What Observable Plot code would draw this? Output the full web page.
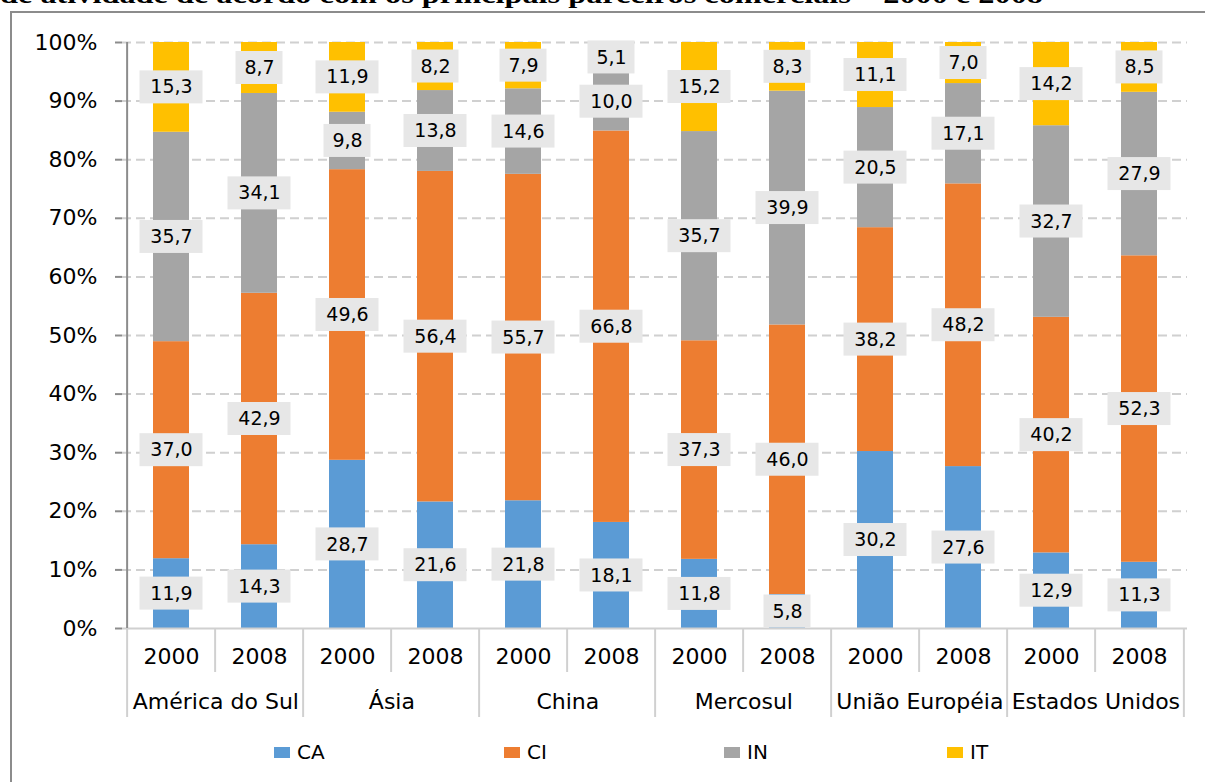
<!DOCTYPE html>
<html><head><meta charset="utf-8">
<script src="https://cdn.jsdelivr.net/npm/d3@7"></script>
<script src="https://cdn.jsdelivr.net/npm/@observablehq/plot@0.6"></script>
<style>
html,body{margin:0;padding:0;background:#fff;overflow:hidden;}
#wrap{position:relative;width:1205px;height:782px;overflow:hidden;font-family:"DejaVu Sans",sans-serif;}
#title{position:absolute;left:0;top:-18px;font-weight:bold;font-size:26px;font-family:"Liberation Serif","Times New Roman",serif;white-space:nowrap;line-height:26px;transform-origin:0 0;}
#border{position:absolute;left:10px;top:11px;width:1220px;height:800px;border:2px solid #8c8c8c;box-sizing:border-box;}
#chart{position:absolute;left:0;top:0;}
#legend{position:absolute;top:740px;left:0;width:1205px;height:24px;}
.item{position:absolute;top:0;display:flex;align-items:center;height:24px;font-size:20px;color:#000;}
.sw{width:16px;height:11px;margin-right:7px;}
</style></head>
<body>
<div id="wrap">
  <div id="border"></div>
  <div id="title"><span id="titletext">de atividade de acordo com os principais parceiros comerciais – 2000 e 2008</span></div>
  <div id="chart"></div>
  <div id="legend"></div>
</div>
<script>
// ---- data ----
const regions = ["América do Sul", "Ásia", "China", "Mercosul", "União Européia", "Estados Unidos"];
const years = ["2000", "2008"];
const seriesNames = ["CA", "CI", "IN", "IT"];
const CA = [11.9, 14.3, 28.7, 21.6, 21.8, 18.1, 11.8, 5.8, 30.2, 27.6, 12.9, 11.3];
const CI = [37.0, 42.9, 49.6, 56.4, 55.7, 66.8, 37.3, 46.0, 38.2, 48.2, 40.2, 52.3];
const IN = [35.7, 34.1, 9.8, 13.8, 14.6, 10.0, 35.7, 39.9, 20.5, 17.1, 32.7, 27.9];
const IT = [15.3, 8.7, 11.9, 8.2, 7.9, 5.1, 15.2, 8.3, 11.1, 7.0, 14.2, 8.5];
const yTicks = [0, 10, 20, 30, 40, 50, 60, 70, 80, 90, 100];
const colors = ["#5b9bd5", "#ed7d31", "#a5a5a5", "#ffc000"];

// ---- derived table ----
const seriesValues = [CA, CI, IN, IT];
const keys = [];
const slots = [];
regions.forEach((r, ri) => years.forEach((y, yi) => {
  const k = r + "|" + y;
  keys.push(k);
  slots.push({key: k, region: r, year: y, first: yi === 0});
}));
const segs = [];
keys.forEach((k, i) => {
  const total = d3.sum(seriesValues, a => a[i]);
  let acc = 0;
  seriesValues.forEach((arr, s) => {
    const v = arr[i] / total * 100;
    segs.push({key: k, series: seriesNames[s], value: arr[i], y1: acc, y2: acc + v, mid: acc + v / 2,
               label: arr[i].toFixed(1).replace(".", ",")});
    acc += v;
  });
});

// ---- layout ----
const W = 1205, H = 730, ML = 122, MR = 18, MT = 42, MB = 102;
const step = (W - ML - MR) / keys.length;
const pxPerUnit = (H - MT - MB) / 100;
const groupDrop = -89 / pxPerUnit;
const yearDrop = -44 / pxPerUnit;

const chart = Plot.plot({
  width: W, height: H,
  marginLeft: ML, marginRight: MR, marginTop: MT, marginBottom: MB,
  style: {fontFamily: "DejaVu Sans, sans-serif", fontSize: "20px", color: "#000", background: "transparent", overflow: "visible"},
  x: {type: "band", domain: keys, paddingInner: 0.594, paddingOuter: 0.297, axis: null},
  y: {domain: [0, 100]},
  color: {domain: seriesNames, range: colors},
  marks: [
    Plot.ruleY(yTicks.filter(d => d > 0), {stroke: "#d0d0d0", strokeWidth: 2, strokeDasharray: "9,5"}),
    Plot.barY(segs, {x: "key", y1: "y1", y2: "y2", fill: "series"}),
    Plot.ruleY([0], {stroke: "#d0d0d0", strokeWidth: 2}),
    Plot.ruleX(slots, {x: "key", dx: -step / 2, y1: 0, y2: d => d.first ? groupDrop : yearDrop, stroke: "#d0d0d0", strokeWidth: 2}),
    Plot.ruleX(slots.slice(-1), {x: "key", dx: step / 2, y1: 0, y2: groupDrop, stroke: "#d0d0d0", strokeWidth: 2}),
    Plot.ruleX(slots.slice(0, 1), {x: "key", dx: -step / 2, y1: 0, y2: 100, stroke: "#8c8c8c", strokeWidth: 2}),
    Plot.axisY({ticks: yTicks, tickFormat: d => d + "%", tickSize: 7, tickPadding: 18, fontSize: 22, stroke: "#8c8c8c", strokeWidth: 2, fill: "#000", label: null}),
    Plot.barY(segs.filter(d => d.label.length >= 4), {x: "key", y1: "mid", y2: "mid", insetTop: -16.5, insetBottom: -16.5, insetLeft: -13.5, insetRight: -13.5, fill: "#e7e7e7"}),
    Plot.barY(segs.filter(d => d.label.length < 4), {x: "key", y1: "mid", y2: "mid", insetTop: -16.5, insetBottom: -16.5, insetLeft: -5.5, insetRight: -5.5, fill: "#e7e7e7"}),
    Plot.text(segs, {x: "key", y: "mid", text: "label", fontSize: 19, fill: "#000"}),
    Plot.text(slots, {x: "key", text: "year", frameAnchor: "bottom", dy: 35, fontSize: 22, fill: "#000"}),
    Plot.text(slots.filter(d => d.first), {x: "key", text: "region", frameAnchor: "bottom", dx: step / 2, dy: 80, fontSize: 22, fill: "#000"})
  ]
});
document.getElementById("chart").appendChild(chart);

// ---- legend ----
const legendX = [274, 504, 724, 947];
const legend = document.getElementById("legend");
seriesNames.forEach((s, i) => {
  const it = document.createElement("div");
  it.className = "item";
  it.style.left = legendX[i] + "px";
  it.innerHTML = `<div class="sw" style="background:${colors[i]}"></div><span>${s}</span>`;
  legend.appendChild(it);
});

// fit title width
const tt = document.getElementById("titletext");
const tw = tt.getBoundingClientRect().width;
document.getElementById("title").style.transform = `scaleX(${1043 / tw})`;
</script>
</body></html>
